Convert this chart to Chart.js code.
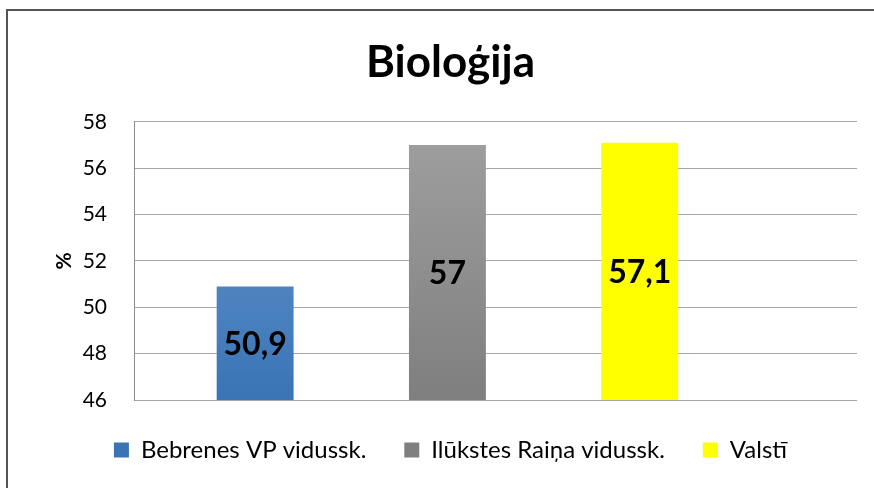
<!DOCTYPE html>
<html>
<head>
<meta charset="utf-8">
<script src="https://cdn.jsdelivr.net/npm/chart.js@4.4.1/dist/chart.umd.min.js"></script>
<style>
  html, body { margin: 0; padding: 0; background: #ffffff; overflow: hidden; }
  #wrap { position: relative; width: 874px; height: 488px; }
  #frame { position: absolute; left: 6px; top: 9px; width: 900px; height: 500px;
           border-top: 2px solid #555555; border-left: 2px solid #555555; pointer-events: none; }
</style>
</head>
<body>
<div id="wrap">
  <canvas id="c" width="874" height="488"></canvas>
  <div id="frame"></div>
</div>
<script>
// ---- data ----
const chartTitle = 'Bioloģija';
const axisTitle = '%';
const seriesNames = ['Bebrenes VP vidussk.', 'Ilūkstes Raiņa vidussk.', 'Valstī'];
const seriesValues = [50.9, 57, 57.1];
const yTickMin = 46;
const yTickMax = 58;
const yTickStep = 2;

// ---- styles ----
const colorStops = [
  ['#6c9ad0', '#3a74b5'],
  ['#a0a0a0', '#7f7f7f'],
  ['#ffff00', '#ffff00']
];

function makeFill(i) {
  return function (ctx) {
    const chart = ctx.chart;
    const area = chart.chartArea;
    if (!area) return colorStops[i][1];
    const g = chart.ctx.createLinearGradient(0, area.top, 0, area.bottom);
    g.addColorStop(0, colorStops[i][0]);
    g.addColorStop(1, colorStops[i][1]);
    return g;
  };
}

const datasets = seriesNames.map((name, i) => ({
  label: name,
  data: [{ x: i + 1, y: seriesValues[i] }],
  backgroundColor: makeFill(i),
  borderWidth: 0,
  grouped: false,
  barPercentage: 0.4,
  categoryPercentage: 1.0
}));

const labelPlugin = {
  id: 'centerLabels',
  afterDraw(chart) {
    const ctx = chart.ctx;
    const xs = chart.scales.x;
    const ys = chart.scales.y;
    ctx.save();
    ctx.font = 'bold 32px Lato, sans-serif';
    ctx.fillStyle = '#000000';
    ctx.textAlign = 'center';
    ctx.textBaseline = 'middle';
    seriesValues.forEach((v, i) => {
      const cx = xs.getPixelForValue(i + 1);
      const top = ys.getPixelForValue(v);
      const base = ys.getPixelForValue(yTickMin);
      const txt = String(v).replace('.', ',');
      ctx.fillText(txt, cx, (top + base) / 2 + 1);
    });
    ctx.restore();
  }
};

new Chart(document.getElementById('c'), {
  type: 'bar',
  data: { datasets },
  plugins: [labelPlugin],
  options: {
    responsive: false,
    animation: false,
    events: [],
    layout: { padding: { top: 36, left: 44, right: 17, bottom: 16 } },
    plugins: {
      title: {
        display: true,
        text: chartTitle,
        color: '#000000',
        font: { family: 'Lato', size: 44, weight: 'bold' },
        padding: { top: 0, bottom: 33 }
      },
      legend: {
        position: 'bottom',
        labels: {
          boxWidth: 15,
          boxHeight: 15,
          padding: 38,
          color: '#000000',
          font: { family: 'Lato', size: 24 }
        }
      },
      tooltip: { enabled: false }
    },
    scales: {
      x: {
        type: 'linear',
        display: false,
        offset: false,
        min: 0.37,
        max: 4.13,
        ticks: { stepSize: 1, includeBounds: false },
        grid: { display: false }
      },
      y: {
        min: yTickMin,
        max: yTickMax,
        ticks: {
          stepSize: yTickStep,
          color: '#000000',
          padding: 27,
          font: { family: 'Lato', size: 21 }
        },
        grid: { color: '#a6a6a6', drawTicks: false, lineWidth: 1 },
        border: { display: true, color: '#8c8c8c', width: 1 },
        title: {
          display: true,
          text: axisTitle,
          color: '#000000',
          font: { family: 'Lato', size: 21, weight: 'bold' },
          padding: { top: 8, bottom: 0 }
        },
        afterFit(scale) { scale.width = 90; }
      }
    }
  }
});
</script>
</body>
</html>
